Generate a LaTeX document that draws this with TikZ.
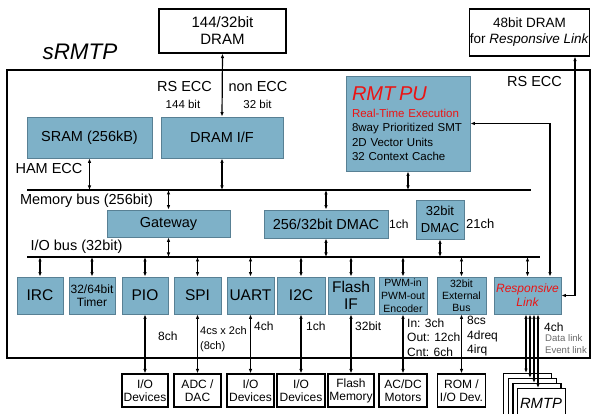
\documentclass[tikz,border=0pt]{standalone}
\usepackage{fontspec}
\setmainfont{Liberation Sans}
\usetikzlibrary{arrows.meta}

\definecolor{blkfill}{RGB}{126,177,200}
\definecolor{blkline}{RGB}{88,128,148}
\definecolor{rmtred}{RGB}{235,20,20}
\definecolor{linkgray}{RGB}{105,105,105}

\tikzset{
  blk/.style={draw=blkline, line width=0.8pt, fill=blkfill, inner sep=0pt, align=center,
    font=\fontsize{14.5}{16}\selectfont},
  iob/.style={blk, minimum height=37, font=\fontsize{15.5}{17}\selectfont},
  dev/.style={draw, line width=1.1pt, fill=white, inner sep=0pt, align=center,
    minimum height=33, font=\fontsize{12}{13}\selectfont},
  lbl/.style={inner sep=0pt, font=\fontsize{12}{14.5}\selectfont},
  frame/.style={line width=2.8pt},
  bus/.style={line width=2.5pt},
  link/.style={{Latex[length=4.5pt,width=3.5pt]}-{Latex[length=4.5pt,width=3.5pt]}, line width=1.2pt}
}

\begin{document}
\begin{tikzpicture}[x=1pt,y=-1pt]
  \useasboundingbox (0,0) rectangle (592,414);

  \node[inner sep=0pt, font=\fontsize{22.5}{26}\selectfont\itshape] (title) at (80,52) {sRMTP};
  \draw[frame] (7,70) rectangle (590,358);

  % external memories
  \node[dev, minimum width=127, minimum height=44, font=\fontsize{15}{17}\selectfont] (dram) at (222.5,31) {144/32bit\\DRAM};
  \node[dev, minimum width=119, minimum height=47, font=\fontsize{13.5}{16}\selectfont] (rldram) at (529.5,32.5) {48bit DRAM\\for \textit{Responsive Link}};

  % memory side
  \node[blk, minimum width=125, minimum height=41] (sram) at (89.5,137.5) {SRAM (256kB)};
  \node[blk, minimum width=122, minimum height=41] (dramif) at (222,137.5) {DRAM I/F};
  \node[blk, minimum width=124, minimum height=95, text width=112, align=left,
    font=\fontsize{11.5}{14.5}\selectfont] (rmtpu) at (408,123.5)
    {{\color{rmtred}\fontsize{20}{22}\selectfont\itshape RMT PU}\\[2.5pt]
     \textcolor{rmtred}{Real-Time Execution}\\
     8way Prioritized SMT\\
     2D Vector Units\\
     32 Context Cache};

  \node[lbl, font=\fontsize{14.5}{16}\selectfont] (rsecc) at (184.5,87) {RS ECC};
  \node[lbl, font=\fontsize{11.5}{13}\selectfont] (w144) at (183,104) {144 bit};
  \node[lbl, font=\fontsize{14.5}{16}\selectfont] (nonecc) at (258,87) {non ECC};
  \node[lbl, font=\fontsize{11.5}{13}\selectfont] (w32) at (257.5,104) {32 bit};
  \node[lbl, font=\fontsize{14.5}{16}\selectfont] (rsecc2) at (534.5,82) {RS ECC};
  \node[lbl, font=\fontsize{14.5}{16}\selectfont] (hamecc) at (49,169) {HAM ECC};

  \draw[link] (dram.south) -- (dramif.north);

  % buses
  \coordinate (mbus) at (27,190);
  \coordinate (mbusend) at (531,190);
  \coordinate (iobus) at (27,257);
  \coordinate (iobusend) at (540,257);
  \draw[bus] (mbus) -- (mbusend);
  \draw[bus] (iobus) -- (iobusend);
  \node[lbl, font=\fontsize{14.5}{16}\selectfont] (mbuslbl) at (86.5,201) {Memory bus (256bit)};
  \node[lbl, font=\fontsize{14.5}{16}\selectfont] (iobuslbl) at (76.5,247) {I/O bus (32bit)};

  \node[blk, minimum width=123, minimum height=27] (gw) at (168.5,223.5) {Gateway};
  \node[blk, minimum width=124, minimum height=28] (dmac) at (326,224) {256/32bit DMAC};
  \node[blk, minimum width=48, minimum height=39, font=\fontsize{13}{17}\selectfont] (dmacs) at (440,219.5) {32bit\\DMAC};
  \node[lbl, anchor=west] (dmacch) at (389,224) {1ch};
  \node[lbl, anchor=west, font=\fontsize{13}{15}\selectfont] (dmacsch) at (466,224) {21ch};

  \draw[link] (sram.south) -- (sram.south |- mbus);
  \draw[link] (dramif.south) -- (dramif.south |- mbus);
  \draw[link] (rmtpu.south) -- (rmtpu.south |- mbus);
  \draw[link] (mbus -| gw.north) -- (gw.north);
  \draw[link] (gw.south) -- (gw.south |- iobus);
  \draw[link] (mbus -| dmac.north) -- (dmac.north);
  \draw[link] (dmac.south) -- (dmac.south |- iobus);
  \draw[link] (dmacs.south) -- (dmacs.south |- iobus);

  % peripherals
  \node[iob, minimum width=46] (irc) at (40,295.5) {IRC};
  \node[iob, minimum width=46, font=\fontsize{12}{12.5}\selectfont] (timer) at (92,295.5) {32/64bit\\Timer};
  \node[iob, minimum width=46] (pio) at (145,295.5) {PIO};
  \node[iob, minimum width=47] (spi) at (197.5,295.5) {SPI};
  \node[iob, minimum width=47] (uart) at (250.5,295.5) {UART};
  \node[iob, minimum width=48] (i2c) at (301,295.5) {I2C};
  \node[iob, minimum width=46] (flash) at (351,295.5) {Flash\\IF};
  \node[iob, minimum width=48, font=\fontsize{10.5}{13}\selectfont] (pwm) at (403,295.5) {PWM-in\\PWM-out\\Encoder};
  \node[iob, minimum width=49, font=\fontsize{10.5}{12}\selectfont] (extbus) at (461.5,295.5) {32bit\\External\\Bus};
  \node[iob, minimum width=67, font=\fontsize{12}{14}\selectfont\itshape\color{rmtred}] (rl) at (527.5,295.5) {Responsive\\Link};

  \foreach \b in {irc,timer,pio,spi,uart,i2c,flash,pwm,extbus,rl}
    \draw[link] (iobus -| \b.north) -- (\b.north);

  % devices
  \node[dev, minimum width=46] (iodev1) at (145,390.5) {I/O\\Devices};
  \node[dev, minimum width=47] (adc) at (197.5,390.5) {ADC /\\DAC};
  \node[dev, minimum width=47] (iodev2) at (250.5,390.5) {I/O\\Devices};
  \node[dev, minimum width=48] (iodev3) at (301,390.5) {I/O\\Devices};
  \node[dev, minimum width=46] (fmem) at (351,390.5) {Flash\\Memory};
  \node[dev, minimum width=48] (motors) at (403,390.5) {AC/DC\\Motors};
  \node[dev, minimum width=48] (rom) at (461.5,390.5) {ROM /\\I/O Dev.};

  \draw[link] (pio.south) -- (iodev1.north);
  \draw[link] (spi.south) -- (adc.north);
  \draw[link] (uart.south) -- (iodev2.north);
  \draw[link] (i2c.south) -- (iodev3.north);
  \draw[link] (flash.south) -- (fmem.north);
  \draw[link] (pwm.south) -- (motors.north);
  \draw[link] (extbus.south) -- (rom.north);

  \node[lbl, anchor=west] (pioch) at (158,336) {8ch};
  \node[lbl, anchor=west, align=left, font=\fontsize{11}{15}\selectfont] (spich) at (200,339.5) {4cs x 2ch\\(8ch)};
  \node[lbl, anchor=west] (uartch) at (254,326) {4ch};
  \node[lbl, anchor=west] (i2cch) at (306,326) {1ch};
  \node[lbl, anchor=west] (flashch) at (355,326) {32bit};
  \node[lbl, anchor=west, align=left] (pwmch) at (407,337.5) {In: 3ch\\Out: 12ch\\Cnt: 6ch};
  \node[lbl, anchor=west, align=left] (extch) at (467,336.5) {8cs\\4dreq\\4irq};
  \node[lbl, anchor=west] (rlch) at (544,327) {4ch};
  \node[lbl, anchor=west, align=left, text=linkgray, font=\fontsize{9.6}{12}\selectfont] (rlkind) at (545,344) {Data link\\Event link};

  % responsive link connections
  \draw[link] (rmtpu.east) -| ([xshift=22.5]rl.north);
  \draw[link] ([xshift=45.5]rldram.south) |- (rl.east);

  \foreach \i/\dx in {1/0,2/4.7,3/9.4,4/14.1}
    \node[draw, line width=1.1pt, fill=white, minimum width=48, minimum height=45, anchor=north west,
      inner sep=0pt] (rmtp\i) at (503+\dx,373+5*\i-5) {};
  \node[inner sep=0pt, font=\fontsize{14.8}{17}\selectfont\itshape] (rmtplbl) at (541,403) {RMTP};

  \foreach \i/\dx in {1/-1.5,2/2.5,3/6.5,4/10.5}
    \draw[link] ([xshift=\dx]rl.south) -- ([xshift=\dx]rl.south |- rmtp\i.north);
\end{tikzpicture}
\end{document}
